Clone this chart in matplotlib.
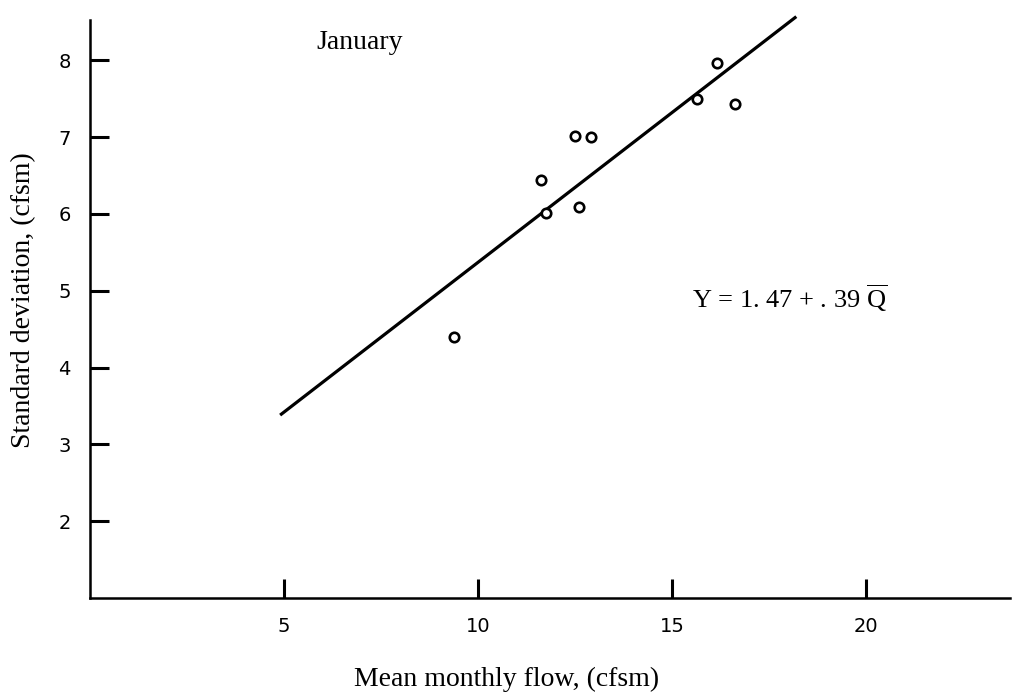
import numpy as np
import matplotlib
matplotlib.use("Agg")
import matplotlib.pyplot as plt

plt.rcParams['font.family'] = ['Liberation Serif', 'DejaVu Serif']
plt.rcParams['mathtext.fontset'] = 'custom'
plt.rcParams['mathtext.rm'] = 'Liberation Serif'

# January mean monthly flow vs standard deviation, cfsm
mean_flow = [9.38, 11.62, 11.75, 12.50, 12.91, 12.60, 15.64, 16.16, 16.62]
std_dev = [4.40, 6.44, 6.01, 7.01, 7.00, 6.09, 7.49, 7.97, 7.43]

# regression Y = 1.47 + .39 Q
intercept = 1.47
slope = 0.39
fit_x = np.array([4.9, 18.2])

x_ticks = [5, 10, 15, 20]
y_ticks = [2, 3, 4, 5, 6, 7, 8]

fig = plt.figure(figsize=(10.13, 6.96), dpi=100)
ax = fig.add_axes([0.0888, 0.1408, 0.908, 0.830])

ax.plot(fit_x, intercept + slope * fit_x, color='black', lw=2.3,
        solid_capstyle='butt', clip_on=False)
ax.plot(mean_flow, std_dev, 'o', ms=6.8, mfc='white', mec='black', mew=1.9)

ax.set_xlim(0, 23.7)
ax.set_ylim(1, 8.52)
ax.set_xticks(x_ticks)
ax.set_yticks(y_ticks)
ax.tick_params(direction='in', length=14, width=2.2, labelsize=14, pad=14)
for lab in ax.get_xticklabels() + ax.get_yticklabels():
    lab.set_family('DejaVu Sans')

for side in ['top', 'right']:
    ax.spines[side].set_visible(False)
for side in ['left', 'bottom']:
    ax.spines[side].set_linewidth(1.8)

ax.set_xlabel('Mean monthly flow, (cfsm)', fontsize=20, labelpad=22)
ax.set_ylabel('Standard deviation, (cfsm)', fontsize=20, labelpad=16)
ax.xaxis.label.set_x(0.453)
ax.yaxis.label.set_y(0.516)

ax.text(6.95, 8.23, 'January', fontsize=20, ha='center', va='center')
ax.text(15.5, 4.78, r'Y = 1. 47 + . 39 $\mathrm{\overline{Q}}$', fontsize=19,
        ha='left', va='baseline')

fig.savefig('out.png', dpi=100)
